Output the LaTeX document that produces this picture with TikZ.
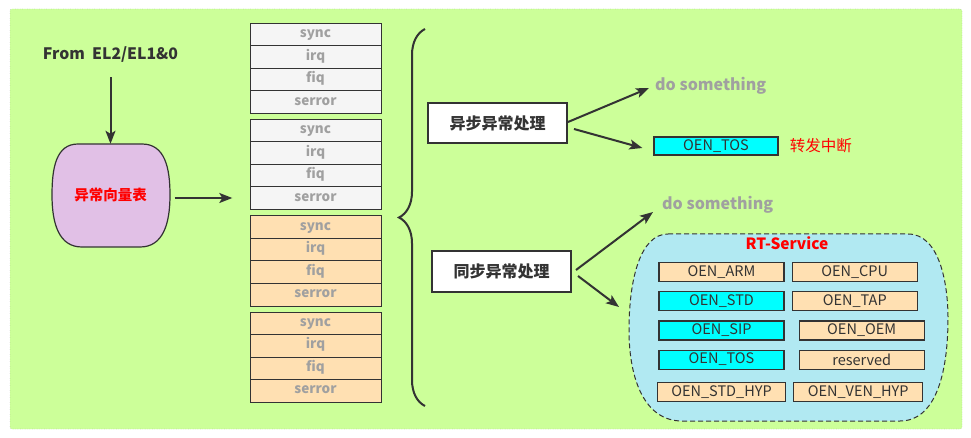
\documentclass[tikz,border=0pt]{standalone}
\usepackage{fontspec}
\setmainfont{Noto Sans CJK SC}
\usepackage{tikz}
\usetikzlibrary{matrix,positioning,arrows.meta,decorations.pathreplacing}
\usepackage{xcolor}
\definecolor{bggreen}{RGB}{204,255,153}
\definecolor{vecpurple}{RGB}{225,192,230}
\definecolor{boxgray}{RGB}{245,245,245}
\definecolor{peach}{RGB}{255,224,178}
\definecolor{rtblue}{RGB}{177,233,242}
\definecolor{txtgray}{RGB}{160,160,160}
\definecolor{dark}{RGB}{51,51,51}
\definecolor{oencyan}{RGB}{0,255,255}

\begin{document}
\begin{tikzpicture}[x=1pt,y=-1pt,
	arr/.style={line width=2pt,draw=dark,-{Stealth[length=13pt,width=10pt,inset=3pt]}},
	proc/.style={draw=dark,line width=2pt,fill=white,minimum width=139pt,minimum height=40pt,font=\fontsize{16}{19}\selectfont\bfseries,text=dark},
	oen/.style={draw=dark,line width=1.2pt,fill=peach,minimum width=125pt,minimum height=19pt,inner sep=0pt,font=\fontsize{14.5}{17}\selectfont,text=dark},
	cy/.style={fill=oencyan},
	dost/.style={text=txtgray,font=\fontsize{16}{19}\selectfont\bfseries,inner sep=0pt,anchor=west}]
				\fill[white] (0,0) rectangle (971,438);
				\useasboundingbox (0,0) rectangle (971,438);
				\draw[draw=gray,dotted,fill=bggreen,rounded corners=2pt] (10,9) rectangle (962,429);
				\node (from) [inner sep=0pt,font=\fontsize{15.8}{19}\selectfont\bfseries,text=dark] at (110.5,55) {From\ \ EL2/EL1\&0};
				\draw[draw=dark,line width=1.2pt,fill=vecpurple] (78,144) -- (142,144) .. controls (165,144) and (170,168) .. (170,195) .. controls (170,224) and (163,247) .. (140,247) -- (82,247) .. controls (59,247) and (52,224) .. (52,195) .. controls (52,168) and (56,144) .. (78,144) -- cycle;
				\node (vec) [minimum width=118pt,minimum height=103pt,text=red,font=\fontsize{14.5}{17}\selectfont\bfseries] at (110.5,195.5) {异常向量表};
				\draw[arr,shorten <=14pt] (from) -- (vec);
				\foreach \g/\yy/\col in {1/68.5/boxgray,2/164.5/boxgray,3/261/peach,4/357/peach}
					\matrix (g\g) [matrix of nodes,inner sep=0pt,row sep=-1pt,nodes={draw=dark,line width=1pt,fill=\col,minimum width=131pt,minimum height=22.5pt,inner sep=0pt,text height=9pt,text depth=3pt,text=txtgray,font=\fontsize{13.5}{16}\selectfont\bfseries}] at (315.5,\yy)
					{
					sync\\
					irq\\
					fiq\\
					serror\\
					};
				\draw[arr,shorten <=5pt,shorten >=17pt] ([yshift=-2.5pt]vec.east) -- ([yshift=-2.5pt]vec.east -| g2.west);
				\draw[dark,line width=2pt,decoration={brace,amplitude=26pt},decorate] (425,406) -- (425,29);
				\node (asy) [proc] at (497.5,123) {异步异常处理};
				\node (syn) [proc] at (501.5,271.5) {同步异常处理};
				\node (ds1) [dost] at (655,86) {do something};
				\node (tos1) [oen,cy,minimum width=124pt,minimum height=18pt] at (716,146) {OEN\_TOS};
				\node (fwd) [right=11pt of tos1,inner sep=0pt,text=red,font=\fontsize{15.5}{18}\selectfont] {转发中断};
				\node (ds2) [dost] at (662,205) {do something};
				\draw[draw=dark,line width=1pt,dash pattern=on 5pt off 3pt,fill=rtblue] (668,234) -- (908,234) .. controls (940,234) and (948,285) .. (948,318) .. controls (948,375) and (935,421) .. (900,421) -- (682,421) .. controls (645,421) and (629,380) .. (629,330) .. controls (629,280) and (640,234) .. (668,234) -- cycle;
				\node (rt) [text=red,font=\fontsize{15.5}{18}\selectfont\bfseries] at (787,243) {RT-Service};
				\node (arm) [oen] at (721.5,272) {OEN\_ARM};
				\node (std) [oen,cy,below=9pt of arm] {OEN\_STD};
				\node (sip) [oen,cy,below=9pt of std] {OEN\_SIP};
				\node (tos2) [oen,cy,below=9pt of sip] {OEN\_TOS};
				\node (shyp) [oen,minimum width=128pt,below=12pt of tos2] {OEN\_STD\_HYP};
				\node (cpu) [oen,right=7pt of arm] {OEN\_CPU};
				\node (tap) [oen,right=7pt of std] {OEN\_TAP};
				\node (oem) [oen,right=14pt of sip] {OEN\_OEM};
				\node (rsv) [oen,right=14pt of tos2] {reserved};
				\node (vhyp) [oen,minimum width=129pt,right=7pt of shyp] {OEN\_VEN\_HYP};
				\coordinate (rtin) at (619,307);
				\draw[arr] ([yshift=1pt]asy.east) -- ([xshift=-6pt,yshift=-2pt]ds1.west);
				\draw[arr] ([xshift=6pt,yshift=-6pt]asy.east) -- ([xshift=-11pt,yshift=-2pt]tos1.west);
				\draw[arr] ([xshift=4pt,yshift=1.5pt]syn.east) -- ([xshift=-9pt,yshift=-7pt]ds2.west);
				\draw[arr] ([xshift=6pt,yshift=-4.5pt]syn.east) -- (rtin);
				% \node [right=20pt of rsv] {};
			\end{tikzpicture}
\end{document}
